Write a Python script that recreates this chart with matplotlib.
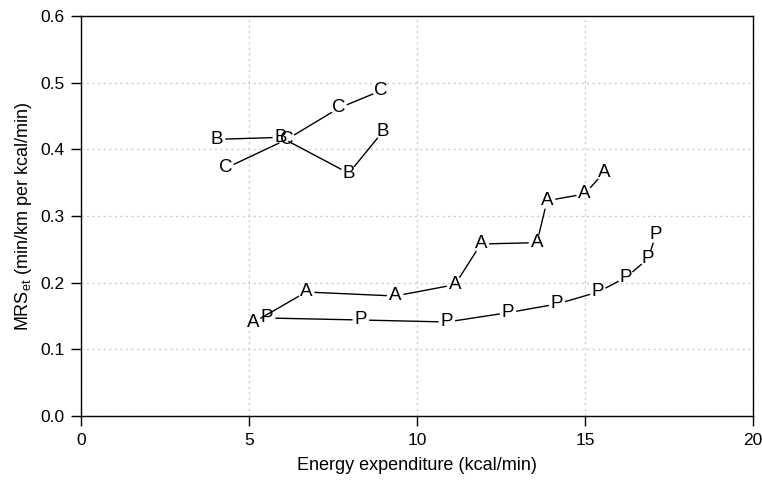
import numpy as np
import matplotlib
matplotlib.use('Agg')
import matplotlib.pyplot as plt

plt.rcParams['font.family'] = ['Liberation Sans', 'DejaVu Sans']
plt.rcParams['mathtext.fontset'] = 'custom'
plt.rcParams['mathtext.rm'] = 'Liberation Sans'

# Series values (energy expenditure, MRS_et)
a_x = [5.12, 6.70, 9.35, 11.13, 11.90, 13.57, 13.87, 14.99, 15.56]
a_y = [0.140, 0.186, 0.180, 0.197, 0.258, 0.260, 0.323, 0.333, 0.365]

p_x = [5.54, 8.33, 10.89, 12.71, 14.17, 15.39, 16.22, 16.88, 17.11]
p_y = [0.147, 0.144, 0.141, 0.155, 0.168, 0.186, 0.208, 0.236, 0.272]

b_x = [4.05, 5.95, 7.97, 8.99]
b_y = [0.415, 0.418, 0.364, 0.427]

c_x = [4.32, 6.13, 7.68, 8.93]
c_y = [0.372, 0.415, 0.462, 0.488]

series = [('A', a_x, a_y), ('P', p_x, p_y), ('B', b_x, b_y), ('C', c_x, c_y)]

fig = plt.figure(figsize=(7.62, 4.82), dpi=100)
ax = fig.add_axes([81 / 762, 1 - 416 / 482, 672 / 762, 400 / 482])
ax.set_xlim(0, 20)
ax.set_ylim(0, 0.6)
ax.set_xticks([0, 5, 10, 15, 20])
ax.set_yticks([0.0, 0.1, 0.2, 0.3, 0.4, 0.5, 0.6])
ax.set_yticklabels(['0.0', '0.1', '0.2', '0.3', '0.4', '0.5', '0.6'])
ax.grid(True, color='#cccccc', linestyle=(0, (1.5, 2.5)), linewidth=1)
ax.set_axisbelow(True)
ax.tick_params(direction='out', length=7, width=1, labelsize=12.5, pad=5)
for s in ax.spines.values():
    s.set_linewidth(1)

# type="b": letters at points, lines with gaps around them
gap = 9  # px
for letter, xs, ys in series:
    pts = ax.transData.transform(np.column_stack([xs, ys]))
    for i in range(len(pts) - 1):
        p0, p1 = pts[i], pts[i + 1]
        d = p1 - p0
        L = np.hypot(*d)
        if L <= 2 * gap:
            continue
        u = d / L
        q0 = ax.transData.inverted().transform(p0 + u * gap)
        q1 = ax.transData.inverted().transform(p1 - u * gap)
        ax.plot([q0[0], q1[0]], [q0[1], q1[1]], color='black', linewidth=1.0)
    for x, y in zip(xs, ys):
        ax.text(x, y, letter, ha='center', va='center', fontsize=13.5)

ax.set_xlabel('Energy expenditure (kcal/min)', fontsize=13, labelpad=7)
ax.set_ylabel('MRS$_{\\mathregular{et}}$ (min/km per kcal/min)', fontsize=13, labelpad=4.5)

fig.savefig('out.png', dpi=100)
